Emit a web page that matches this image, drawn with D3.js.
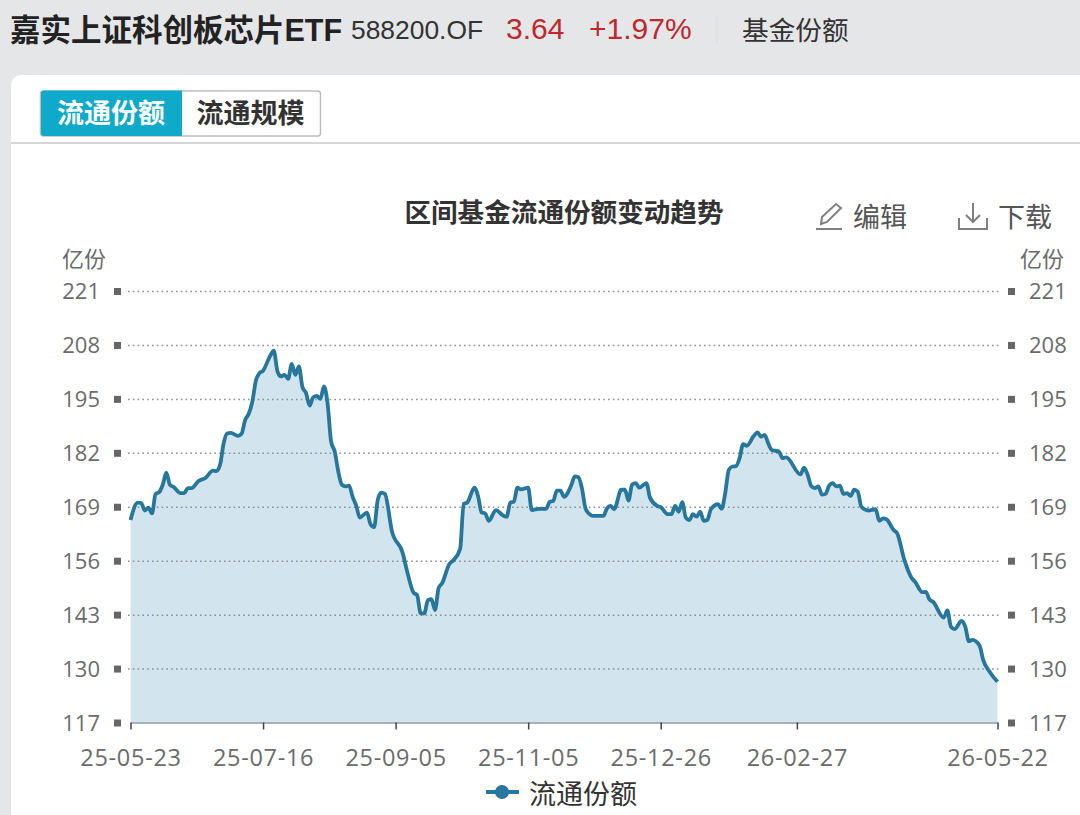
<!DOCTYPE html>
<html>
<head>
<meta charset="utf-8">
<script src="https://cdnjs.cloudflare.com/ajax/libs/d3/7.8.5/d3.min.js"></script>
<style>
html, body { margin: 0; padding: 0; background: #e5e6e8; overflow: hidden; }
svg { display: block; }
text { font-family: "Noto Sans CJK SC", "Liberation Sans", sans-serif; }
</style>
</head>
<body>
<svg id="chart" width="1080" height="815"></svg>
<script>
// trading day index of each traced vertex
let days = [0,2,3,4,5,6,7,8,9,10,11,12,14,15,16,17,19,21,23,24,25,26,27,28,30,31,32,33,34,35,36,37,39,40,41,42,43,44,45,46,47,48,49,50,51,52,53,54,55,56,57,58,59,60,61,62,63,64,66,67,68,69,70,71,73,76,77,79,80,81,82,83,84,85,86,87,89,90,92,93,94,96,97,98,99,100,102,104,105,106,107,108,109,111,112,114,116,117,118,119,120,121,123,124,125,126,127,128,129,132,133,134,135,137,138,139,140,141,142,144,145,147,148,150,151,152,153,154,155,156,157,158,159,160,161,162,164,165,166,167,168,169,170,171,172,174,175,176,177,178,179,181,182,183,187,188,189,190,191,192,193,194,195,196,197,198,199,200,201,202,203,204,206,208,209,210,211,213,214,216,218,219,221,222,223,224,227,228,229,230,232,233,234,235,237,238,240,242]
let shares = [165.8,170.0,169.9,168.1,168.8,167.4,172.1,172.5,174.3,177.2,174.3,173.8,172.3,172.3,173.5,173.5,175.2,176.0,177.7,177.6,179.1,184.3,186.7,186.8,186.1,186.6,189.9,191.4,194.3,199.4,201.2,201.8,205.4,206.6,201.7,200.4,200.8,199.8,203.4,200.8,202.8,197.8,196.4,193.4,195.4,195.7,195.0,198.0,194.0,184.7,182.3,177.5,174.3,173.9,174.1,171.4,169.3,166.4,167.6,164.8,164.1,170.6,172.4,172.1,163.0,157.8,154.2,148.3,147.7,143.3,143.3,146.5,146.7,144.1,149.4,150.6,155.2,156.0,158.8,169.7,170.0,173.6,171.6,167.6,167.4,165.6,168.2,166.9,166.6,170.0,170.2,173.6,173.2,173.6,168.2,168.5,168.5,170.2,170.4,172.9,172.9,171.4,174.1,176.3,176.1,173.5,168.6,167.3,166.8,166.8,168.6,169.2,168.4,173.1,173.1,170.5,174.3,174.7,173.6,174.7,171.2,169.2,168.9,167.2,167.2,169.2,167.8,170.1,166.4,165.8,167.2,166.6,167.8,165.6,165.8,168.4,169.6,168.5,172.3,177.9,178.7,178.8,180.7,184.1,183.7,186.1,186.9,185.9,186.3,184.3,182.7,182.3,180.7,180.9,176.8,178.4,176.7,174.0,173.5,173.9,171.9,172.1,174.1,174.7,173.9,174.1,172.1,172.3,171.6,173.1,172.6,169.0,168.1,168.4,165.6,166.2,166.0,163.4,162.6,156.2,151.9,150.9,148.4,148.5,146.7,146.1,142.3,144.0,140.1,139.5,141.5,140.1,136.6,136.9,135.5,132.1,129.0,126.8]

let tickDays = [0,37,74,111,148,186,242]
let tickDates = ["25-05-23","25-07-16","25-09-05","25-11-05","25-12-26","26-02-27","26-05-22"]
let yTicks = [117,130,143,156,169,182,195,208,221]

let tabs = ["流通份额","流通规模"]
let fundName = "嘉实上证科创板芯片ETF"
let fundCode = "588200.OF"
let price = "3.64"
let change = "+1.97%"

const svg = d3.select("#chart")
const gridColor = "#8f8f8f", labelColor = "#6b6b6b", lineColor = "#27769b"

const x = d3.scaleLinear().domain([0, 242]).range([130.5, 997.5])
const y = d3.scaleLinear().domain([117, 221]).range([722.5, 291])

// page header
function label(px, py, str, size, color, weight, anchor) {
  return svg.append("text").attr("x", px).attr("y", py).text(str)
    .attr("font-size", size).attr("fill", color)
    .attr("font-weight", weight || 400)
    .attr("text-anchor", anchor || "start")
}
label(10, 41, fundName, 30.5, "#222", 700).style("font-family", "Liberation Sans, Noto Sans CJK SC")
label(351, 39, fundCode, 26.4, "#333").style("font-family", "Liberation Sans")
label(506, 39, price, 30, "#c0272d").style("font-family", "Liberation Sans")
label(589, 39, change, 30, "#c0272d").style("font-family", "Liberation Sans")
svg.append("line").attr("x1", 717).attr("x2", 717).attr("y1", 16).attr("y2", 44).attr("stroke", "#dcdde0")
label(742, 40, "基金份额", 26.7, "#333")

// white card
svg.append("path").attr("fill", "#fff")
  .attr("d", "M11,815V85a10,10 0 0 1 10,-10H1080V815Z")

// tabs
svg.append("rect").attr("x", 40.5).attr("y", 91).attr("width", 280).attr("height", 45).attr("rx", 3)
  .attr("fill", "#fff").attr("stroke", "#bdbdbd").attr("stroke-width", 1.5)
svg.append("path").attr("fill", "#0fa9c9").attr("d", "M44,90.5H182V136H44a3,3 0 0 1 -3,-3V93.500a3,3 0 0 1 3,-3Z")
label(111, 123, tabs[0], 27, "#fff", 700, "middle")
label(250.5, 123, tabs[1], 27, "#333", 700, "middle")
svg.append("line").attr("x1", 11).attr("x2", 1080).attr("y1", 143).attr("y2", 143).attr("stroke", "#c8c8c8").attr("stroke-width", 1.5)

// title and tools
label(564, 222, "区间基金流通份额变动趋势", 26.6, "#333", 700, "middle")
label(853, 227, "编辑", 27, "#555")
label(998, 227, "下载", 27, "#555")
svg.append("path").attr("fill", "none").attr("stroke", "#808080").attr("stroke-width", 2)
  .attr("d", "M816,229H842M821,224L822,217L836,204L841,208L827,222Z")
svg.append("path").attr("fill", "none").attr("stroke", "#808080").attr("stroke-width", 2)
  .attr("d", "M959,218V229H987V218M973,203V222M966,215L973,222L980,215")

label(62, 267, "亿份", 22, labelColor)
label(1020, 267, "亿份", 22, labelColor)

// area and gridlines
const area = d3.area().x((d, i) => x(days[i])).y0(y(117)).y1(d => y(d)).curve(d3.curveMonotoneX)
svg.append("path").datum(shares).attr("d", area).attr("fill", "#d2e4ed")

const gridG = svg.append("g").attr("class", "y-grid")
  .call(d3.axisLeft(y).tickValues(yTicks.filter(d => d != 117)).tickSize(0).tickFormat(""))
gridG.select(".domain").remove()
gridG.selectAll("line").attr("x1", 128).attr("x2", 1001)
  .attr("stroke", gridColor).attr("stroke-width", 1.5).attr("stroke-dasharray", "1.6 3.2")

// square tick marks and y labels on both sides
function yLabels(side) {
  const g = svg.append("g")
  g.selectAll("rect").data(yTicks).join("rect")
    .attr("x", side == "l" ? 114 : 1008).attr("y", d => y(d) - 3)
    .attr("width", 7).attr("height", 7).attr("fill", "#666")
  g.selectAll("text").data(yTicks).join("text")
    .attr("x", side == "l" ? 100 : 1029).attr("y", d => y(d) + 8)
    .attr("text-anchor", side == "l" ? "end" : "start")
    .attr("font-size", 22).attr("fill", labelColor)
    .text(d => d)
    .style("font-family", "Open Sans")
}
yLabels("l")
yLabels("r")

// line
const line = d3.line().x((d, i) => x(days[i])).y(d => y(d)).curve(d3.curveMonotoneX)
svg.append("path").datum(shares).attr("d", line).attr("fill", "none")
  .attr("stroke", lineColor).attr("stroke-width", 3.8).attr("stroke-linejoin", "round")

// x axis
const xAxis = svg.append("g").attr("transform", `translate(0,${y(117)})`)
  .call(d3.axisBottom(x).tickValues(tickDays).tickSize(7).tickSizeOuter(0).tickFormat((d, i) => tickDates[i]))
xAxis.select(".domain").attr("stroke", "#8c98a4").attr("stroke-width", 1.5)
xAxis.selectAll("line").attr("stroke", "#444").attr("stroke-width", 1.5)
xAxis.selectAll("text").attr("y", 35).attr("dy", "0.35em").attr("font-size", 23.5).attr("fill", labelColor)
  .style("font-family", "Open Sans").style("letter-spacing", "0.7px")

// legend
svg.append("line").attr("x1", 486).attr("x2", 519).attr("y1", 792).attr("y2", 792).attr("stroke", lineColor).attr("stroke-width", 4)
svg.append("circle").attr("cx", 502).attr("cy", 792).attr("r", 7).attr("fill", lineColor)
label(529, 804, tabs[0], 27, "#333")
</script>
</body>
</html>
